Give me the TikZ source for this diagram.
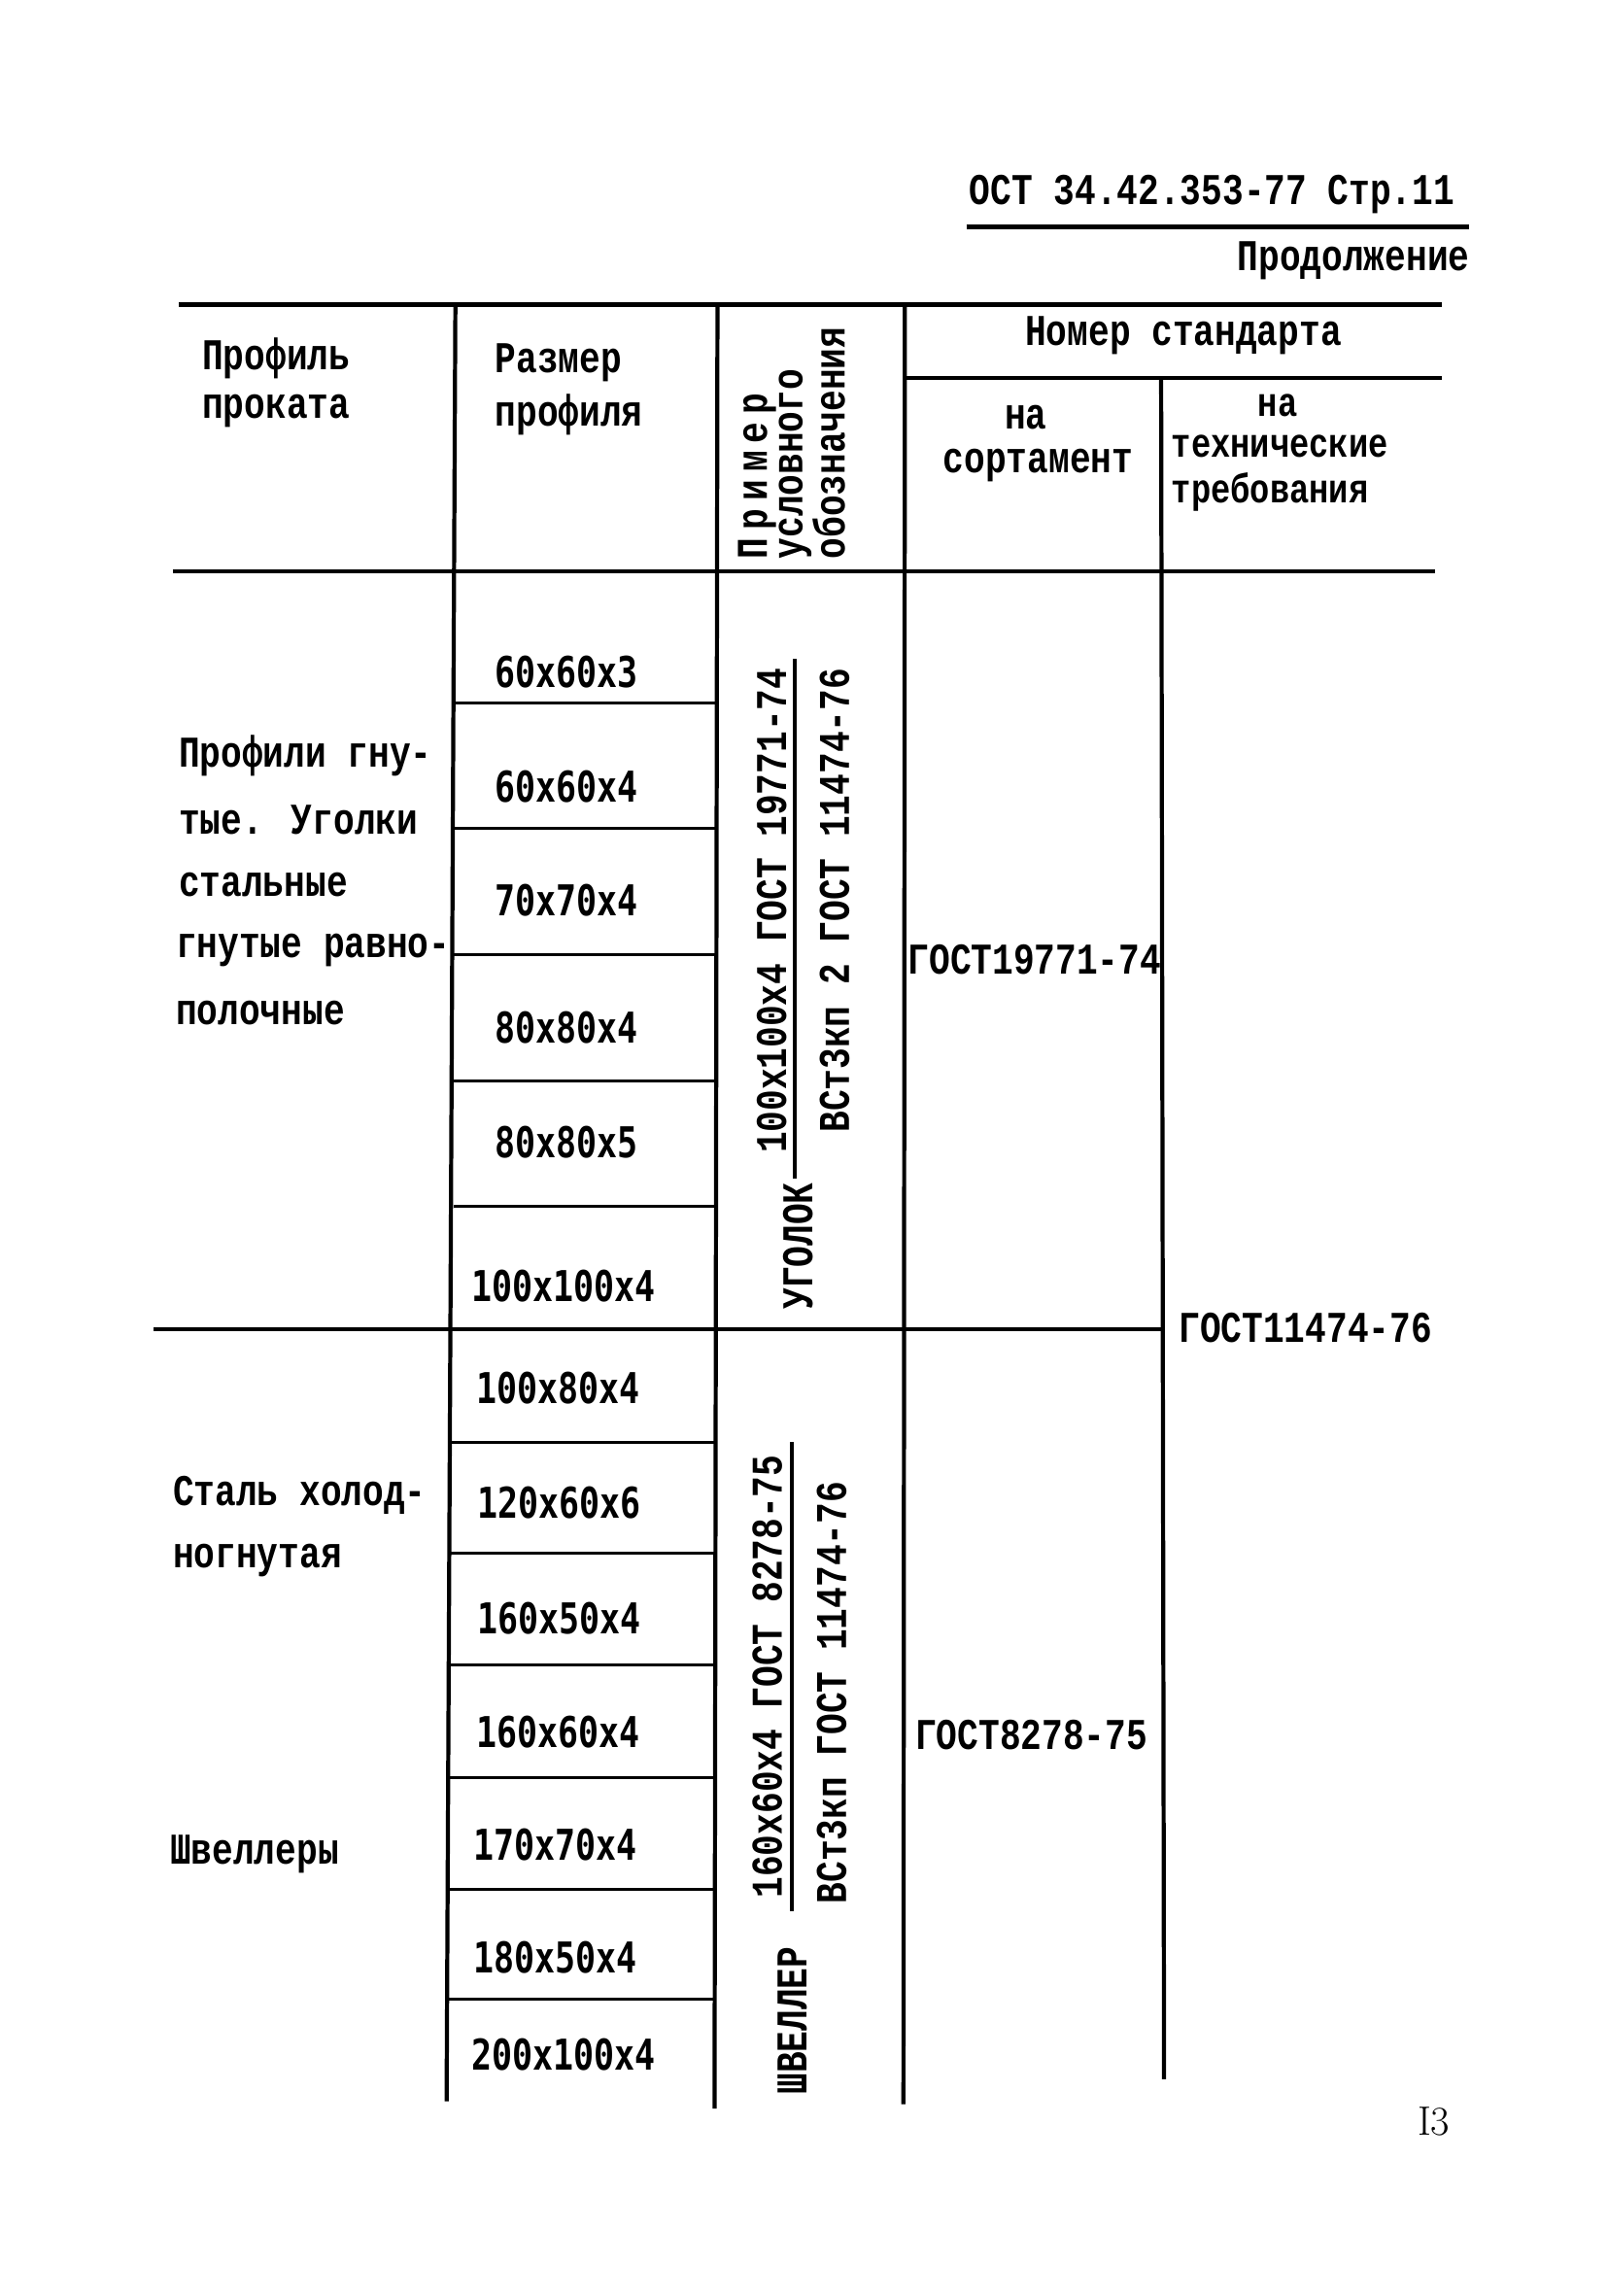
\documentclass[tikz,border=0pt]{standalone}
\usepackage{fontspec}
\newfontfamily\tw[UprightFont={* Bold},FakeStretch=0.8]{Liberation Mono}
\newfontfamily\tws[UprightFont={* Bold},FakeStretch=0.8]{DejaVu Sans Mono}
\begin{document}
\begin{tikzpicture}[x=1pt,y=-1pt,
  rule/.style={line width=2.8pt},
  thinrule/.style={line width=2pt},
  t/.style={font=\tw\fontsize{30}{30}\selectfont,inner sep=0pt,anchor=west},
  ts/.style={font=\tw\fontsize{28}{28}\selectfont,inner sep=0pt,anchor=west},
  sz/.style={font=\tws\fontsize{29}{29}\selectfont,inner sep=0pt,anchor=west},
  rt/.style={t,rotate=90},
  rc/.style={t,rotate=90,anchor=center}
]
\useasboundingbox (0,0) rectangle (1098,1568);
% header
\node[t] (hdr) at (662,133) {ОСТ 34.42.353-77 Стр.11};
\draw[rule] (660,155) -- (1003,155);
\node[t] (cont) at (845,178) {Продолжение};
% table lines
\draw[rule] (122,208) -- (985,208);
\draw[rule] (618,258) -- (985,258);
\draw[rule] (118,390) -- (980,390);
\draw[rule] (105,908) -- (793,908);
\draw[rule] (311,208) -- (305,1435);
\draw[rule] (490,208) -- (488,1440);
\draw[rule] (618,208) -- (617,1437);
\draw[rule] (793,258) -- (795,1420);
\foreach \y in {480,566,652,738,824} \draw[thinrule] (310,\y) -- (489,\y);
\foreach \y in {985,1061,1137,1214,1290,1365} \draw[thinrule] (306,\y) -- (489,\y);
% header texts
\node[t] (h1a) at (138,245) {Профиль};
\node[t] (h1b) at (138,281) {проката};
\node[t] (h2a) at (338,248) {Размер};
\node[t] (h2b) at (338,283) {профиля};
\node[rt] (h3a) at (517,382) {\addfontfeatures{LetterSpace=18}Пример};
\node[rt] (h3b) at (543,382) {условного};
\node[rt] (h3c) at (566,382) {обозначения};
\node[t] (h4) at (700,229) {Номер стандарта};
\node[t] (h5a) at (686,285) {на};
\node[t] (h5b) at (644,318) {сортамент};
\node[ts] (h6a) at (859,277) {на};
\node[ts] (h6b) at (800,305) {технические};
\node[ts] (h6c) at (800,336) {требования};
% left column
\node[t] (a1) at (122,516) {Профили гну-};
\node[t] (a2) at (122,560) {тые. Уголки};
\node[t] (a3) at (122,604) {стальные};
\node[t] (a4) at (120,649) {гнутые равно-};
\node[t] (a5) at (120,692) {полочные};
\node[t] (b1) at (118,1021) {Сталь холод-};
\node[t] (b2) at (118,1066) {ногнутая};
\node[t] (c1) at (116,1266) {Швеллеры};
% sizes
\node[sz] (s1) at (338,459) {60x60x3};
\node[sz] (s2) at (338,537) {60x60x4};
\node[sz] (s3) at (338,615) {70x70x4};
\node[sz] (s4) at (338,702) {80x80x4};
\node[sz] (s5) at (338,780) {80x80x5};
\node[sz] (s6) at (322,878) {100x100x4};
\node[sz] (s7) at (325,948) {100x80x4};
\node[sz] (s8) at (326,1026) {120x60x6};
\node[sz] (s9) at (326,1105) {160x50x4};
\node[sz] (s10) at (325,1183) {160x60x4};
\node[sz] (s11) at (323,1260) {170x70x4};
\node[sz] (s12) at (323,1337) {180x50x4};
\node[sz] (s13) at (322,1403) {200x100x4};
% designations
\node[rc] (d1a) at (527,622) {100x100x4 ГОСТ 19771-74};
\draw[rule] (543,450) -- (543,805);
\node[rc] (d1b) at (570,615) {ВСт3кп 2 ГОСТ 11474-76};
\node[rc] (d1c) at (545,851) {УГОЛОК};
\node[rc] (d2a) at (524,1145) {160x60x4 ГОСТ 8278-75};
\draw[rule] (541,985) -- (541,1305);
\node[rc] (d2b) at (568,1156) {ВСт3кп ГОСТ 11474-76};
\node[rc] (d2c) at (541,1380) {ШВЕЛЛЕР};
% standards
\node[t] (g1) at (620,655) {ГОСТ19771-74};
\node[t] (g2) at (625,1185) {ГОСТ8278-75};
\node[t] (g3) at (805,907) {ГОСТ11474-76};
% page number
\node[font=\fontsize{28}{28}\selectfont,inner sep=0pt,anchor=west] (pg) at (968,1449) {I3};
\end{tikzpicture}
\end{document}
